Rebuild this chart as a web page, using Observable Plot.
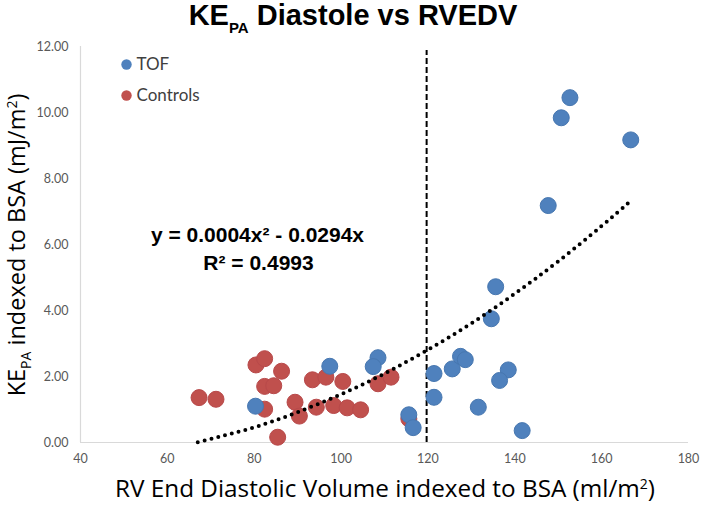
<!DOCTYPE html>
<html><head><meta charset="utf-8">
<script src="https://cdn.jsdelivr.net/npm/d3@7"></script>
<script src="https://cdn.jsdelivr.net/npm/@observablehq/plot@0.6"></script>
<style>
body{margin:0;background:#fff;width:706px;height:506px;overflow:hidden}
#title{height:36px;text-align:center;font:bold 29px "Liberation Sans",Arial,sans-serif;line-height:30px;color:#000;white-space:nowrap}
#title sub{font-size:15px;vertical-align:-8px;line-height:0}
#chart svg{display:block}
</style></head><body>
<div id="title">KE<sub>PA</sub> Diastole vs RVEDV</div>
<div id="chart"></div>
<script>
// TOF group
const tofX = [152.7, 150.7, 166.7, 147.7, 135.6, 134.6, 97.4, 108.5, 107.4, 121.4, 125.6, 127.5, 128.6, 138.5, 136.5, 121.4, 131.6, 141.7, 115.6, 116.6, 80.3];
const tofY = [10.45, 9.84, 9.17, 7.18, 4.72, 3.75, 2.31, 2.57, 2.30, 2.09, 2.23, 2.61, 2.51, 2.20, 1.88, 1.37, 1.07, 0.36, 0.84, 0.45, 1.10];
// Controls group
const ctrlX = [67.3, 71.2, 80.4, 82.4, 86.3, 82.4, 84.5, 82.4, 89.4, 90.4, 85.4, 115.6, 93.4, 96.5, 100.4, 108.5, 111.5, 94.3, 98.3, 101.4, 104.5];
const ctrlY = [1.36, 1.31, 2.35, 2.54, 2.16, 1.70, 1.72, 1.01, 1.22, 0.80, 0.16, 0.72, 1.90, 1.98, 1.85, 1.78, 1.98, 1.07, 1.12, 1.05, 0.99];
// dotted polynomial trend line
const trendX = [67, 80, 90, 100, 110, 120, 130, 140, 150, 160, 166.3];
const trendY = [0.01, 0.46, 0.92, 1.46, 2.09, 2.81, 3.61, 4.51, 5.49, 6.56, 7.28];
// dashed cutoff
const cutoffX = [119.7];
const xTicks = [40, 60, 80, 100, 120, 140, 160, 180];
const yTicks = [0, 2, 4, 6, 8, 10, 12];
const seriesNames = ["TOF", "Controls"];
const seriesColors = ["#4F81BD", "#C0504D"];
const equationLines = ["y = 0.0004x² - 0.0294x", "R² = 0.4993"];

const tof = tofX.map((x, i) => ({x, y: tofY[i]}));
const ctrl = ctrlX.map((x, i) => ({x, y: ctrlY[i]}));
const trend = trendX.map((x, i) => ({x, y: trendY[i]}));

const axisFont = "Lato, 'Open Sans', sans-serif";
const labelFont = "'Open Sans', Lato, sans-serif";
const eqFont = "'Liberation Sans', Arial, sans-serif";

const plot = Plot.plot({
  width: 706,
  height: 470,
  marginTop: 10,
  marginBottom: 64,
  marginLeft: 80,
  marginRight: 18,
  style: {fontFamily: axisFont, background: "#fff"},
  x: {domain: [40, 180], ticks: xTicks},
  y: {domain: [0, 12], ticks: yTicks},
  marks: [
    Plot.ruleY([0], {stroke: "#d9d9d9", strokeWidth: 1.2}),
    Plot.ruleX([40], {stroke: "#d9d9d9", strokeWidth: 1.2}),
    Plot.axisX({ticks: xTicks, tickSize: 0, tickPadding: 12, fontSize: 12.5, fill: "#595959", label: null}),
    Plot.axisY({ticks: yTicks, tickSize: 0, tickPadding: 12, fontSize: 12.5, fill: "#595959", tickFormat: d3.format(".2f"), label: null}),
    Plot.ruleX(cutoffX, {y1: 0, y2: 12, insetBottom: -4, stroke: "#000", strokeWidth: 2, strokeDasharray: "6,3"}),
    Plot.dot(ctrl, {x: "x", y: "y", r: 8, fill: seriesColors[1], stroke: "#b8494a", strokeWidth: 1}),
    Plot.dot(tof, {x: "x", y: "y", r: 8, fill: seriesColors[0], stroke: "#4777b0", strokeWidth: 1}),
    Plot.line(trend, {x: "x", y: "y", curve: "natural", stroke: "#000", strokeWidth: 4, strokeDasharray: "0,7", strokeLinecap: "round"}),
    // legend
    Plot.dot(seriesNames, {frameAnchor: "top-left", dx: 46, dy: 18, r: 5.2, fill: seriesColors[0], filter: (d, i) => i === 0}),
    Plot.dot(seriesNames, {frameAnchor: "top-left", dx: 46, dy: 49, r: 5.2, fill: seriesColors[1], filter: (d, i) => i === 1}),
    Plot.text(seriesNames, {frameAnchor: "top-left", dx: 56, dy: 18, text: d => d, textAnchor: "start", lineAnchor: "middle", fontSize: 17, fill: "#404040", filter: (d, i) => i === 0}),
    Plot.text(seriesNames, {frameAnchor: "top-left", dx: 56, dy: 49, text: d => d, textAnchor: "start", lineAnchor: "middle", fontSize: 17, fill: "#404040", filter: (d, i) => i === 1}),
    // equation
    Plot.text(equationLines, {frameAnchor: "top-left", dx: 177, dy: 189, text: d => d, textAnchor: "middle", lineAnchor: "middle", fontSize: 21, fontWeight: "bold", fontFamily: eqFont, fill: "#000", filter: (d, i) => i === 0}),
    Plot.text(equationLines, {frameAnchor: "top-left", dx: 178, dy: 217, text: d => d, textAnchor: "middle", lineAnchor: "middle", fontSize: 21, fontWeight: "bold", fontFamily: eqFont, fill: "#000", filter: (d, i) => i === 1})
  ]
});

const svg = d3.select(plot);
// y axis title with subscript
const yl = svg.append("text")
  .attr("transform", "translate(25,209) rotate(-90)")
  .attr("text-anchor", "middle")
  .style("font-family", labelFont).style("font-size", "23.5px").attr("fill", "#000");
yl.append("tspan").text("KE");
yl.append("tspan").style("font-size", "14px").attr("dy", 6).text("PA");
yl.append("tspan").attr("dy", -6).text(" indexed to BSA (mJ/m");
yl.append("tspan").style("font-size", "14px").attr("dy", -8).text("2");
yl.append("tspan").attr("dy", 8).text(")");
// x axis title
const xl = svg.append("text")
  .attr("x", 385).attr("y", 461)
  .attr("text-anchor", "middle")
  .style("font-family", labelFont).style("font-size", "24.3px").attr("fill", "#000");
xl.append("tspan").text("RV End Diastolic Volume indexed to BSA (ml/m");
xl.append("tspan").style("font-size", "14px").attr("dy", -8).text("2");
xl.append("tspan").attr("dy", 8).text(")");

document.getElementById("chart").appendChild(plot);
</script>
</body></html>
